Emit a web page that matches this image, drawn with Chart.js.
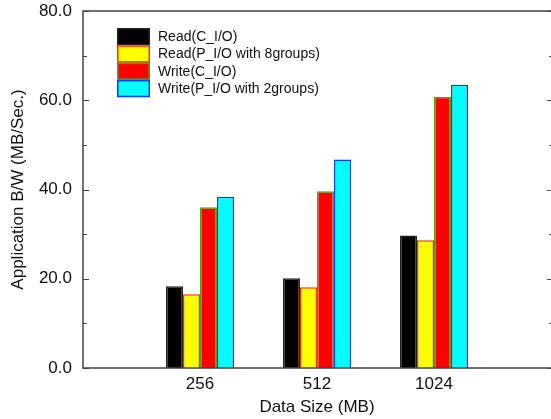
<!DOCTYPE html>
<html>
<head>
<meta charset="utf-8">
<script src="https://cdn.jsdelivr.net/npm/chart.js@4/dist/chart.umd.min.js"></script>
<style>
  html, body { margin: 0; padding: 0; background: #fff; overflow: hidden; }
  #wrap { width: 560px; height: 419px; }
</style>
</head>
<body>
<div id="wrap"><canvas id="bwChart" width="560" height="419"></canvas></div>
<script>
// data
let categories = ['256', '512', '1024'];
let readC = [18.3, 20.1, 29.7];
let readP = [16.5, 18.1, 28.6];
let writeC = [36.0, 39.6, 60.8];
let writeP = [38.4, 46.7, 63.5];
let yTicks = [0, 10, 20, 30, 40, 50, 60, 70, 80];

let seriesNames = ['Read(C_I/O)', 'Read(P_I/O with 8groups)', 'Write(C_I/O)', 'Write(P_I/O with 2groups)'];
let fills = ['#000000', '#ffff00', '#ff0000', '#00ffff'];
let borders = ['#222222', '#ff3300', '#44aa00', '#0044ff'];

// empty slots either side so the groups sit at 1, 2, 3 on a 0..4 axis
let labels = [''].concat(categories, ['']);
let pad = (arr) => [null].concat(arr, [null]);

let fontName = "'Liberation Sans', Arial, sans-serif";

// frame, inward ticks and boxed legend
let framePlugin = {
    id: 'frame',
    afterDraw(chart) {
        let ctx = chart.ctx;
        let a = chart.chartArea;
        let y = chart.scales.y;
        ctx.save();
        ctx.strokeStyle = '#444';
        ctx.lineWidth = 1.5;
        // left, top, bottom (the right edge falls just outside the picture)
        ctx.beginPath();
        ctx.moveTo(a.right + 5, a.top);
        ctx.lineTo(a.left, a.top);
        ctx.lineTo(a.left, a.bottom);
        ctx.lineTo(a.right + 5, a.bottom);
        ctx.stroke();
        ctx.lineWidth = 1;
        yTicks.forEach(v => {
            let py = Math.round(y.getPixelForValue(v)) + 0.5;
            let len = (v % 20 === 0) ? 6 : 4;
            ctx.beginPath();
            ctx.moveTo(a.left, py);
            ctx.lineTo(a.left + len, py);
            ctx.moveTo(a.right + 2, py);
            ctx.lineTo(a.right + 2 - len, py);
            ctx.stroke();
        });

        // legend
        let bx = 117, by = 28, bw = 33, bh = 17.3;
        ctx.font = '14px ' + fontName;
        ctx.textBaseline = 'middle';
        ctx.textAlign = 'left';
        chart.data.datasets.forEach((ds, i) => {
            let top = by + i * bh;
            ctx.fillStyle = ds.backgroundColor;
            ctx.fillRect(bx, top, bw, bh);
            ctx.strokeStyle = ds.borderColor;
            ctx.lineWidth = 1.5;
            ctx.strokeRect(bx + 0.75, top + 0.75, bw - 1.5, bh - 1.5);
            ctx.fillStyle = '#111';
            ctx.fillText(ds.label, 158, top + bh / 2 + 0.5);
        });
        ctx.restore();
    }
};

let ctx1 = document.getElementById('bwChart').getContext('2d');
let bwChart = new Chart(ctx1, {
    type: 'bar',
    data: {
        labels: labels,
        datasets: [readC, readP, writeC, writeP].map((vals, i) => ({
            label: seriesNames[i],
            data: pad(vals),
            backgroundColor: fills[i],
            borderColor: borders[i],
            borderWidth: 1.5,
            categoryPercentage: 68 / 117,
            barPercentage: 1.0
        }))
    },
    options: {
        responsive: false,
        animation: false,
        devicePixelRatio: 1,
        layout: {
            padding: { left: 0, right: 9, top: 11, bottom: 0 }
        },
        plugins: {
            legend: { display: false },
            tooltip: { enabled: false }
        },
        scales: {
            x: {
                offset: false,
                grid: { display: false, drawTicks: false },
                border: { display: false },
                ticks: {
                    padding: 6,
                    color: '#111',
                    font: { family: fontName, size: 17 },
                    maxRotation: 0,
                    autoSkip: false
                },
                title: {
                    display: true,
                    text: 'Data Size (MB)',
                    color: '#111',
                    font: { family: fontName, size: 17 },
                    padding: { top: 0, bottom: 1 }
                },
                afterFit(scale) {
                    scale.height = 51;
                    scale.paddingLeft = 0;
                    scale.paddingRight = 0;
                }
            },
            y: {
                min: 0,
                max: 80,
                grid: { display: false, drawTicks: false },
                border: { display: false },
                ticks: {
                    stepSize: 20,
                    padding: 11,
                    color: '#111',
                    font: { family: fontName, size: 17 },
                    callback: (v) => v.toFixed(1)
                },
                title: {
                    display: true,
                    text: 'Application B/W (MB/Sec.)',
                    color: '#111',
                    font: { family: fontName, size: 17 },
                    padding: { top: 8, bottom: 0 }
                },
                afterFit(scale) {
                    scale.width = 83;
                    scale.paddingTop = 0;
                    scale.paddingBottom = 0;
                }
            }
        }
    },
    plugins: [framePlugin]
});
</script>
</body>
</html>
